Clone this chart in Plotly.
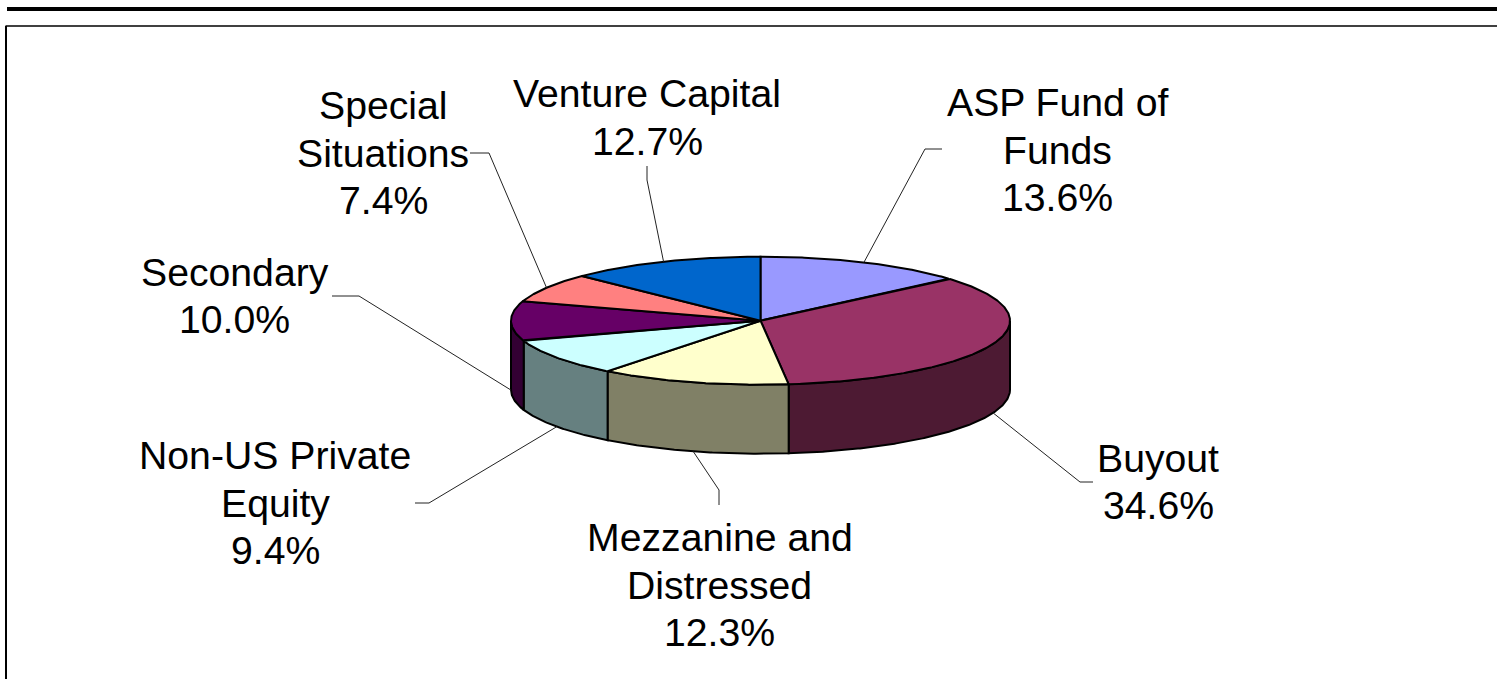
import math
import plotly.graph_objects as go

# ---- data ----
categories = ["ASP Fund of Funds", "Buyout", "Mezzanine and Distressed", "Non-US Private Equity",
              "Secondary", "Special Situations", "Venture Capital"]
values = [13.6, 34.6, 12.3, 9.4, 10.0, 7.4, 12.7]
top_colors = ["#9999FF", "#993366", "#FFFFCC", "#CCFFFF", "#660066", "#FF8080", "#0066CC"]
side_colors = ["#4D4D80", "#4D1A33", "#808066", "#668080", "#330033", "#804040", "#003366"]
label_lines = [["ASP Fund of", "Funds"], ["Buyout"], ["Mezzanine and", "Distressed"],
               ["Non-US Private", "Equity"], ["Secondary"], ["Special", "Situations"], ["Venture Capital"]]

# ---- layout ----
CX, CY, RX, RY, DEPTH = 760.5, 320.7, 249.5, 64, 69
LINE_STEP = 47.5
label_pos = [(1057.5, 150), (1158, 482), (719.5, 585), (275, 503), (234.5, 296), (383, 153), (647, 117.5)]
elbows = [[(925, 149), (942, 149)], [(1080, 482), (1093, 482)], [(719, 490), (719, 505)],
          [(429, 503), (415, 503)], [(359, 296), (332, 296)], [(489, 153), (470, 153)],
          [(647, 180), (647, 166)]]
FONT = dict(family="Liberation Sans, Arial, sans-serif", size=39.2, color="black")


def pt(deg, dz=0):
    a = math.radians(deg)
    return CX + RX * math.sin(a), CY - RY * math.cos(a) + dz


def arc(a0, a1, dz=0):
    n = max(2, int(abs(a1 - a0) * 2))
    return [pt(a0 + (a1 - a0) * i / n, dz) for i in range(n + 1)]


total = sum(values)
bounds = [0.0]
for v in values:
    bounds.append(bounds[-1] + v / total * 360)

fig = go.Figure()


def poly(points, fill=None, width=2.0, color="black"):
    xs, ys = zip(*points)
    fig.add_trace(go.Scatter(
        x=list(xs), y=list(ys), mode="lines", line=dict(color=color, width=width),
        fill="toself" if fill else "none", fillcolor=fill, hoverinfo="skip", showlegend=False))


# side wall: only the front half of the rim (90..270 degrees clockwise from the top)
for i in range(len(values)):
    a0, a1 = max(bounds[i], 90), min(bounds[i + 1], 270)
    if a1 > a0:
        poly(arc(a0, a1) + arc(a1, a0, DEPTH) + [pt(a0)], side_colors[i])

# top face
for i in range(len(values)):
    poly([(CX, CY)] + arc(bounds[i], bounds[i + 1]) + [(CX, CY)], top_colors[i])

# leader lines start on the rim at each slice's middle angle
for i in range(len(values)):
    mid = (bounds[i] + bounds[i + 1]) / 2
    front = 90 < mid < 270
    poly([pt(mid, DEPTH if front else 0)] + elbows[i], width=1.0, color="#222222")

# labels: one text per line so the line spacing can follow the picture
annotations = []
for i, lines in enumerate(label_lines):
    rows = lines + [f"{values[i]:.1f}%"]
    for r, row in enumerate(rows):
        annotations.append(dict(x=label_pos[i][0], y=label_pos[i][1] + (r - (len(rows) - 1) / 2) * LINE_STEP,
                                xref="x", yref="y", text=row, showarrow=False, align="center",
                                xanchor="center", yanchor="middle", font=FONT))

shapes = [
    dict(type="rect", xref="x", yref="y", x0=7, x1=1497, y0=7, y1=11,
         fillcolor="black", line=dict(width=0)),
    dict(type="line", xref="x", yref="y", x0=5.5, x1=1497, y0=26, y1=26, line=dict(color="black", width=1.5)),
    dict(type="line", xref="x", yref="y", x0=6, x1=6, y0=26, y1=679, line=dict(color="black", width=2)),
]

fig.update_layout(
    width=1497, height=679, margin=dict(l=0, r=0, t=0, b=0),
    paper_bgcolor="white", plot_bgcolor="white", showlegend=False,
    xaxis=dict(range=[0, 1497], visible=False, fixedrange=True),
    yaxis=dict(range=[679, 0], visible=False, fixedrange=True),
    annotations=annotations, shapes=shapes,
)
fig.write_html("out.html", config=dict(displayModeBar=False),
               post_script="document.body.style.margin='0';document.body.style.overflow='hidden';")
